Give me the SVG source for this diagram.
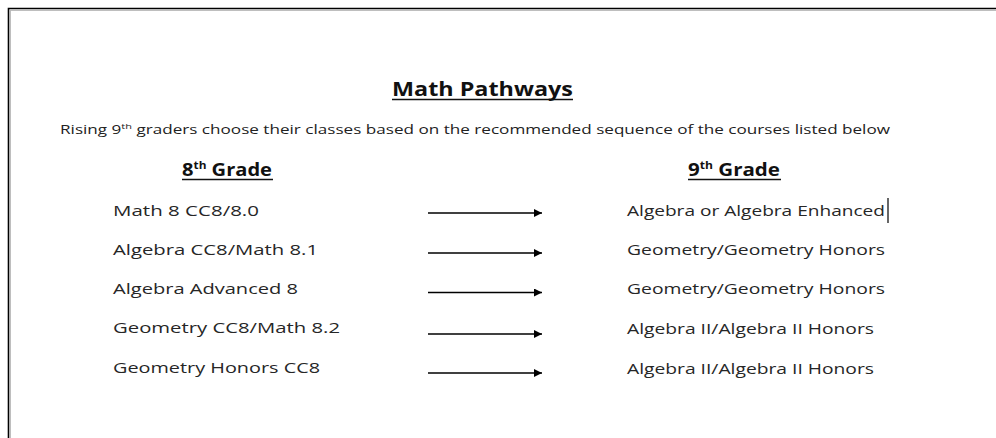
<svg xmlns="http://www.w3.org/2000/svg" width="996" height="438" viewBox="0 0 996 438">
  <style>
    text { font-family: "Open Sans", "Liberation Sans", sans-serif; }
    .title { font-size: 20px; font-weight: bold; fill: #111; }
    .sub { font-size: 12.5px; fill: #222; }
    .head { font-size: 17px; font-weight: bold; fill: #111; }
    .item { font-size: 14px; fill: #262626; }
    .ul { stroke: #111; stroke-width: 1.4; }
    .arrow { stroke: #000; stroke-width: 1.5; fill: none; marker-end: url(#ah); }
  </style>
  <defs>
    <marker id="ah" viewBox="0 0 10 10" refX="10" refY="5" markerWidth="11" markerHeight="8" markerUnits="userSpaceOnUse" orient="auto">
      <path d="M0,0 L10,5 L0,10 z" fill="#000"/>
    </marker>
  </defs>
  <rect x="0" y="0" width="996" height="438" fill="#fff"/>
  <g id="frame">
    <path d="M8.5,438 V8.5 H996" fill="none" stroke="#000" stroke-width="1.6"/>
    <path d="M10.3,438 V10.3 H996" fill="none" stroke="#999" stroke-width="0.8"/>
  </g>
  <g id="title">
    <text class="title" x="392" y="96" textLength="181" lengthAdjust="spacingAndGlyphs">Math Pathways</text>
    <line class="ul" x1="392" y1="99.5" x2="573" y2="99.5"/>
  </g>
  <g id="subtitle">
    <text class="sub" x="60" y="134" textLength="830" lengthAdjust="spacingAndGlyphs">Rising 9<tspan font-size="8" dy="-5">th</tspan><tspan dy="5"> graders choose their classes based on the recommended sequence of the courses listed below</tspan></text>
  </g>
  <g id="head-8">
    <text class="head" x="182" y="176" textLength="90" lengthAdjust="spacingAndGlyphs">8<tspan font-size="10" dy="-7">th</tspan><tspan dy="7"> Grade</tspan></text>
    <line class="ul" x1="182" y1="179.5" x2="273" y2="179.5"/>
  </g>
  <g id="head-9">
    <text class="head" x="688" y="176" textLength="92" lengthAdjust="spacingAndGlyphs">9<tspan font-size="10" dy="-7">th</tspan><tspan dy="7"> Grade</tspan></text>
    <line class="ul" x1="688" y1="179.5" x2="781" y2="179.5"/>
  </g>
  <g id="g8-1"><text class="item" x="113" y="216" textLength="146" lengthAdjust="spacingAndGlyphs">Math 8 CC8/8.0</text></g>
  <g id="g8-2"><text class="item" x="113" y="255" textLength="205" lengthAdjust="spacingAndGlyphs">Algebra CC8/Math 8.1</text></g>
  <g id="g8-3"><text class="item" x="113" y="294" textLength="185" lengthAdjust="spacingAndGlyphs">Algebra Advanced 8</text></g>
  <g id="g8-4"><text class="item" x="113" y="333" textLength="227" lengthAdjust="spacingAndGlyphs">Geometry CC8/Math 8.2</text></g>
  <g id="g8-5"><text class="item" x="113" y="373" textLength="207" lengthAdjust="spacingAndGlyphs">Geometry Honors CC8</text></g>
  <g id="g9-1">
    <text class="item" x="627" y="216" textLength="258" lengthAdjust="spacingAndGlyphs">Algebra or Algebra Enhanced</text>
    <line x1="888" y1="198" x2="888" y2="223" stroke="#000" stroke-width="1.2"/>
  </g>
  <g id="g9-2"><text class="item" x="627" y="255" textLength="258" lengthAdjust="spacingAndGlyphs">Geometry/Geometry Honors</text></g>
  <g id="g9-3"><text class="item" x="627" y="294" textLength="258" lengthAdjust="spacingAndGlyphs">Geometry/Geometry Honors</text></g>
  <g id="g9-4"><text class="item" x="627" y="334" textLength="247" lengthAdjust="spacingAndGlyphs">Algebra II/Algebra II Honors</text></g>
  <g id="g9-5"><text class="item" x="627" y="374" textLength="247" lengthAdjust="spacingAndGlyphs">Algebra II/Algebra II Honors</text></g>
  <g id="connectors">
    <line class="arrow" x1="428" y1="213" x2="542" y2="213"/>
    <line class="arrow" x1="428" y1="253" x2="542" y2="253"/>
    <line class="arrow" x1="428" y1="292.5" x2="542" y2="292.5"/>
    <line class="arrow" x1="428" y1="334" x2="542" y2="334"/>
    <line class="arrow" x1="428" y1="373" x2="542" y2="373"/>
  </g>
</svg>
